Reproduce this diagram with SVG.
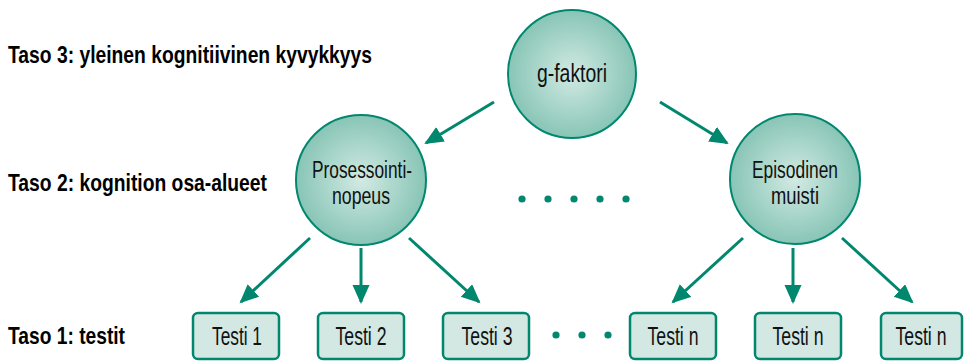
<svg xmlns="http://www.w3.org/2000/svg" width="964" height="362" viewBox="0 0 964 362">
  <defs>
    <radialGradient id="cg" cx="50%" cy="50%" r="50%">
      <stop offset="0" stop-color="#d2eae3"/>
      <stop offset="1" stop-color="#88c5b6"/>
    </radialGradient>
    <marker id="ah" markerUnits="userSpaceOnUse" markerWidth="20" markerHeight="18" refX="17" refY="8.5" orient="auto">
      <path d="M0,0 L19,8.5 L0,17 z" fill="#00876e"/>
    </marker>
    <style>
      .lbl{font-family:"Liberation Sans",Arial,sans-serif;font-weight:bold;font-size:24px;fill:#000}
      .t{font-family:"Liberation Sans",Arial,sans-serif;font-size:25px;fill:#111;text-anchor:middle}
      .tc{font-family:"Liberation Sans",Arial,sans-serif;font-size:23px;fill:#111;text-anchor:middle}
      .circ{fill:url(#cg);stroke:#00876e;stroke-width:2}
      .box{fill:#d3e7e3;stroke:#00876e;stroke-width:2.5}
      .ar{stroke:#00876e;stroke-width:3;fill:none;marker-end:url(#ah)}
      .dot{fill:#00876e}
    </style>
  </defs>
  <rect width="964" height="362" fill="#fff"/>

  <g id="labels">
    <text class="lbl" x="8" y="63" textLength="364" lengthAdjust="spacingAndGlyphs">Taso 3: yleinen kognitiivinen kyvykkyys</text>
    <text class="lbl" x="8" y="191" textLength="259" lengthAdjust="spacingAndGlyphs">Taso 2: kognition osa-alueet</text>
    <text class="lbl" x="8" y="344" textLength="117" lengthAdjust="spacingAndGlyphs">Taso 1: testit</text>
  </g>

  <g id="connectors">
    <line class="ar" x1="494" y1="102" x2="426" y2="143"/>
    <line class="ar" x1="660" y1="102" x2="727" y2="143"/>
    <line class="ar" x1="310" y1="238" x2="241" y2="302"/>
    <line class="ar" x1="361" y1="248" x2="361" y2="302"/>
    <line class="ar" x1="409" y1="238" x2="479" y2="302"/>
    <line class="ar" x1="743" y1="238" x2="673" y2="302"/>
    <line class="ar" x1="793" y1="248" x2="793" y2="302"/>
    <line class="ar" x1="842" y1="238" x2="912" y2="302"/>
  </g>

  <g id="g-faktori">
    <circle class="circ" cx="572" cy="74" r="64"/>
    <text class="t" x="572" y="82" textLength="70" lengthAdjust="spacingAndGlyphs">g-faktori</text>
  </g>
  <g id="prosessointinopeus">
    <circle class="circ" cx="361" cy="180" r="65"/>
    <text class="tc" x="362" y="178" textLength="100" lengthAdjust="spacingAndGlyphs">Prosessointi-</text>
    <text class="tc" x="361" y="204" textLength="58" lengthAdjust="spacingAndGlyphs">nopeus</text>
  </g>
  <g id="episodinen-muisti">
    <circle class="circ" cx="795" cy="179" r="65"/>
    <text class="tc" x="795" y="178" textLength="86" lengthAdjust="spacingAndGlyphs">Episodinen</text>
    <text class="tc" x="795" y="204" textLength="48" lengthAdjust="spacingAndGlyphs">muisti</text>
  </g>

  <g id="dots-mid">
    <circle class="dot" cx="522" cy="199" r="3.6"/>
    <circle class="dot" cx="548" cy="199" r="3.6"/>
    <circle class="dot" cx="574" cy="199" r="3.6"/>
    <circle class="dot" cx="600" cy="199" r="3.6"/>
    <circle class="dot" cx="626" cy="199" r="3.6"/>
  </g>
  <g id="dots-bottom">
    <circle class="dot" cx="556" cy="335" r="3.6"/>
    <circle class="dot" cx="582" cy="335" r="3.6"/>
    <circle class="dot" cx="608" cy="335" r="3.6"/>
  </g>

  <g id="testi1"><rect class="box" x="193" y="313" width="86" height="46" rx="5"/><text class="t" x="237" y="345" textLength="50" lengthAdjust="spacingAndGlyphs">Testi 1</text></g>
  <g id="testi2"><rect class="box" x="318" y="313" width="86" height="46" rx="5"/><text class="t" x="361" y="345" textLength="51" lengthAdjust="spacingAndGlyphs">Testi 2</text></g>
  <g id="testi3"><rect class="box" x="443" y="313" width="86" height="46" rx="5"/><text class="t" x="487" y="345" textLength="51" lengthAdjust="spacingAndGlyphs">Testi 3</text></g>
  <g id="testin1"><rect class="box" x="630" y="313" width="86" height="46" rx="5"/><text class="t" x="673" y="345" textLength="51" lengthAdjust="spacingAndGlyphs">Testi n</text></g>
  <g id="testin2"><rect class="box" x="755" y="313" width="86" height="46" rx="5"/><text class="t" x="798" y="345" textLength="51" lengthAdjust="spacingAndGlyphs">Testi n</text></g>
  <g id="testin3"><rect class="box" x="881" y="313" width="81" height="46" rx="5"/><text class="t" x="921" y="345" textLength="51" lengthAdjust="spacingAndGlyphs">Testi n</text></g>
</svg>
